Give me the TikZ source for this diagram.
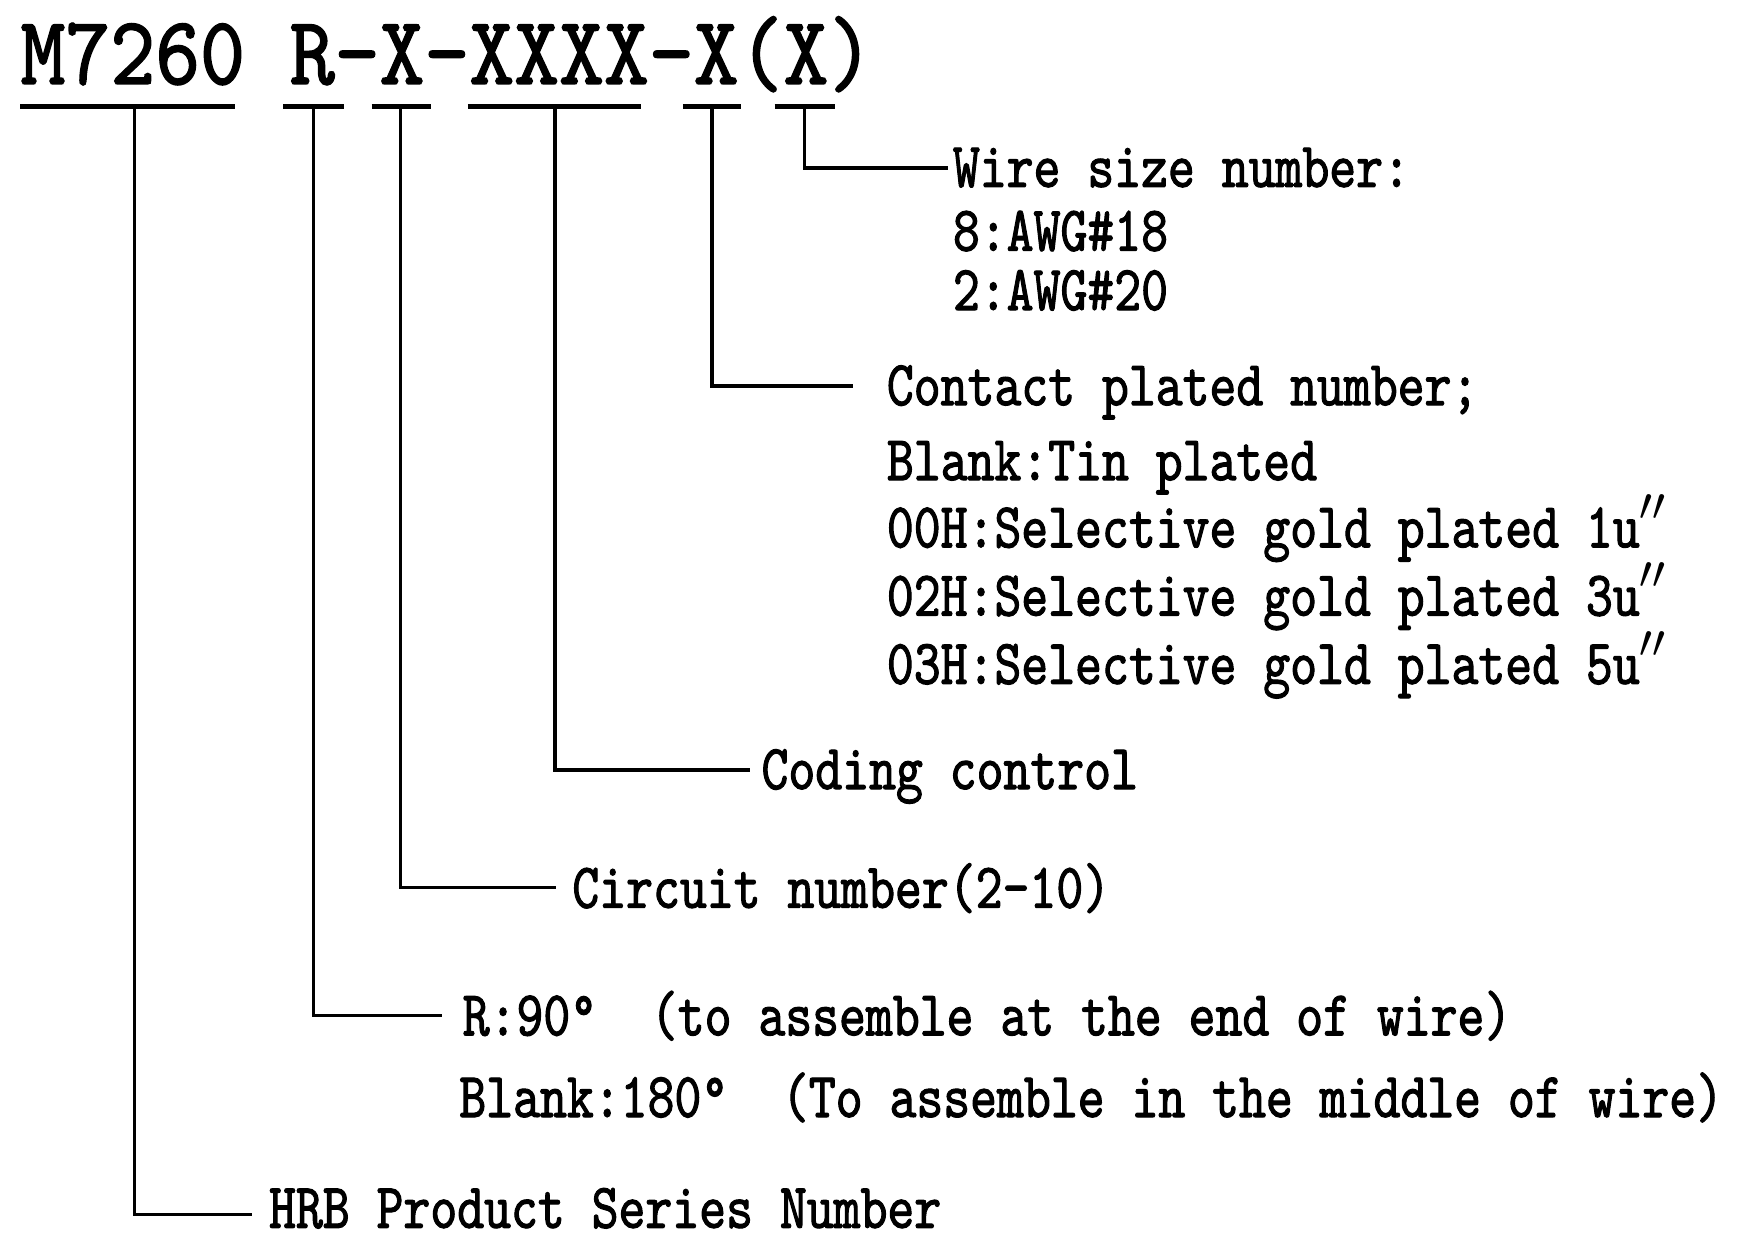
\documentclass[tikz,border=0pt]{standalone}
\usepackage{fontspec}
\newfontfamily\bodyfont[FakeStretch=0.80,FakeBold=1.6]{lmmono10-regular.otf}
\newfontfamily\titlefont[FakeStretch=0.88,FakeBold=1.6]{lmmono10-regular.otf}
\newcommand{\dprime}{\raisebox{0.1em}{$^{\prime\prime}$}}
\begin{document}
\begin{tikzpicture}[x=0.5pt,y=-0.5pt,
  lbl/.style={anchor=base west,inner sep=0pt,font=\bodyfont\fontsize{28.6}{30}\selectfont},
  ttl/.style={anchor=base west,inner sep=0pt,font=\titlefont\fontsize{43.4}{44}\selectfont},
  conn/.style={line width=1.5pt,line join=miter},
  uline/.style={line width=2.2pt}]
\useasboundingbox[fill=white] (0,0) rectangle (1568,1108);
% title
\node[ttl] (title) at (18,75) {M7260 R–X–XXXX–X(X)};
% underline end points
\coordinate (m1) at (18,95);  \coordinate (m2) at (210,95);
\coordinate (r1) at (253,95); \coordinate (r2) at (307,95);
\coordinate (x1) at (332,95); \coordinate (x2) at (385,95);
\coordinate (c1) at (418,95); \coordinate (c2) at (573,95);
\coordinate (p1) at (610,95); \coordinate (p2) at (662,95);
\coordinate (w1) at (692,95); \coordinate (w2) at (746,95);
\foreach \a/\b in {m1/m2,r1/r2,x1/x2,c1/c2,p1/p2,w1/w2} \draw[uline] (\a) -- (\b);
% drop points
\coordinate (dM) at (120,95);
\coordinate (dR) at (280,95);
\coordinate (dX) at (358,95);
\coordinate (dC) at (496,95);
\coordinate (dP) at (636,95);
\coordinate (dW) at (719,95);
% label ends of connectors
\coordinate (eW) at (847,150);
\coordinate (eP) at (762,345);
\coordinate (eC) at (670,688);
\coordinate (eX) at (497,793);
\coordinate (eR) at (395,907);
\coordinate (eM) at (225,1085);
% labels
\node[lbl] (ws0) at (851,167) {Wire size number:};
\node[lbl] (ws1) at (851,224) {8:AWG\#18};
\node[lbl] (ws2) at (851,277) {2:AWG\#20};
\node[lbl] (cp0) at (792,362) {Contact plated number;};
\node[lbl] (cp1) at (792,429) {Blank:Tin plated};
\node[lbl] (cp2) at (792,489) {00H:Selective gold plated 1u\dprime};
\node[lbl] (cp3) at (792,550) {02H:Selective gold plated 3u\dprime};
\node[lbl] (cp4) at (792,611) {03H:Selective gold plated 5u\dprime};
\node[lbl] (cc) at (680,705) {Coding control};
\node[lbl] (cn) at (511,811) {Circuit number(2–10)};
\node[lbl] (ra) at (413,925) {R:90°\ \ (to assemble at the end of wire)};
\node[lbl] (rb) at (410,998) {Blank:180°\ \ (To assemble in the middle of wire)};
\node[lbl] (hrb) at (240,1097) {HRB Product Series Number};
% connectors
\draw[conn] (dW) |- (eW);
\draw[conn] (dP) |- (eP);
\draw[conn] (dC) |- (eC);
\draw[conn] (dX) |- (eX);
\draw[conn] (dR) |- (eR);
\draw[conn] (dM) |- (eM);
\end{tikzpicture}
\end{document}
